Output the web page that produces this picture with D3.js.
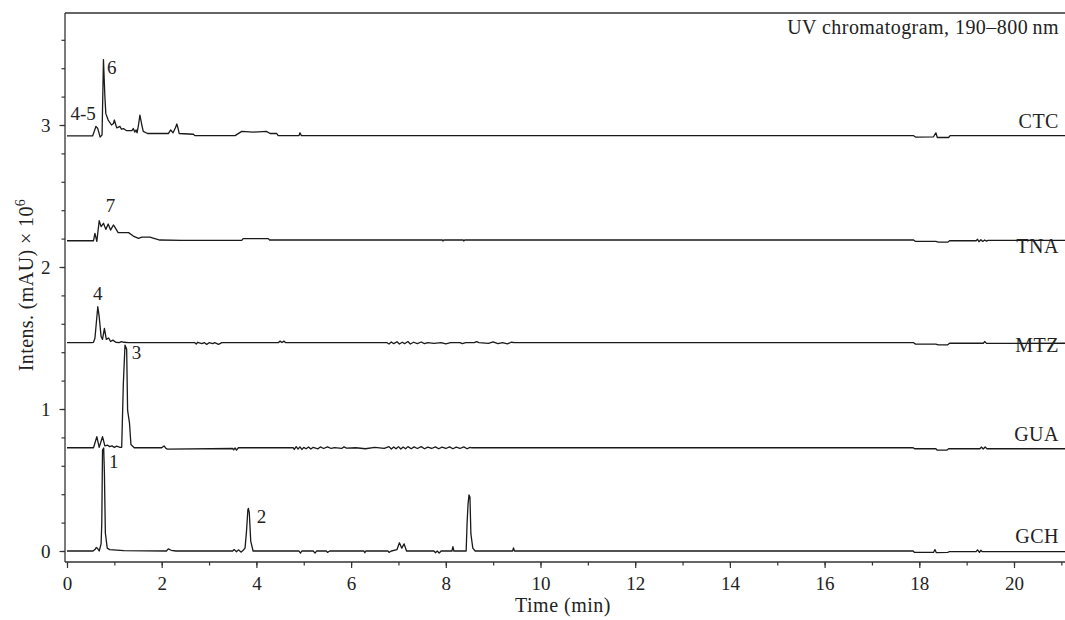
<!DOCTYPE html>
<html>
<head>
<meta charset="utf-8">
<script src="https://cdn.jsdelivr.net/npm/d3@7"></script>
<style>
  html, body { margin: 0; padding: 0; background: #fff; }
  svg { display: block; }
  text { font-family: "Liberation Serif", "DejaVu Serif", serif; fill: #222; }
</style>
</head>
<body>
<svg id="chart" width="1065" height="620"></svg>
<script>
// ---- Data (time in min, intensity in mAU x 10^6) ----
const xTicksMajor = [0, 2, 4, 6, 8, 10, 12, 14, 16, 18, 20];
const yTicksMajor = [0, 1, 2, 3];

const CTC = [
  [0,2.923],[0.54,2.923],[0.58,2.96],[0.61,2.99],[0.65,2.975],[0.70,2.915],[0.74,2.93],[0.77,3.46],[0.80,3.20],
  [0.82,3.08],[0.87,3.035],[0.94,3.0],[0.98,3.01],[1.0,3.035],[1.05,2.98],[1.12,2.99],[1.15,2.97],[1.19,2.975],
  [1.26,2.96],[1.37,2.96],[1.40,2.975],[1.43,2.95],[1.46,2.965],[1.48,2.945],[1.51,3.0],[1.54,3.07],[1.58,3.0],
  [1.61,2.955],[1.70,2.94],[2.14,2.94],[2.19,2.965],[2.24,2.945],[2.29,2.98],[2.32,3.007],[2.35,2.97],[2.37,2.94],
  [2.67,2.935],[2.70,2.925],[3.55,2.925],[3.69,2.955],[3.93,2.95],[4.21,2.955],[4.29,2.94],[4.43,2.94],[4.46,2.925],
  [4.90,2.925],[4.92,2.945],[4.95,2.925],[17.88,2.925],[17.92,2.915],[18.3,2.917],[18.35,2.945],[18.38,2.912],
  [18.62,2.912],[18.65,2.925],[21.2,2.925]
];
const TNA = [
  [0,2.185],[0.56,2.185],[0.59,2.237],[0.63,2.18],[0.68,2.326],[0.72,2.284],[0.77,2.308],[0.82,2.265],[0.87,2.303],
  [0.92,2.26],[0.98,2.296],[1.03,2.27],[1.08,2.242],[1.30,2.242],[1.40,2.218],[1.51,2.202],[1.58,2.21],[1.75,2.21],
  [1.96,2.19],[2.42,2.187],[3.69,2.187],[3.72,2.2],[4.25,2.2],[4.28,2.19],[7.93,2.19],[7.94,2.183],[7.96,2.19],
  [8.37,2.19],[8.38,2.183],[8.40,2.19],[17.88,2.19],[17.92,2.18],[18.35,2.18],[18.4,2.175],[18.6,2.175],[18.64,2.185],
  [19.2,2.185],[19.23,2.195],[19.26,2.178],[19.3,2.192],[19.34,2.18],[19.38,2.19],[19.42,2.182],[19.45,2.187],[21.2,2.187]
];
const MTZ = [
  [0,1.467],[0.52,1.467],[0.56,1.47],[0.59,1.498],[0.65,1.72],[0.68,1.65],[0.72,1.51],[0.75,1.49],[0.79,1.568],
  [0.83,1.49],[0.88,1.50],[0.92,1.475],[0.97,1.485],[1.03,1.47],[1.1,1.468],[1.15,1.475],[1.2,1.47],[1.3,1.467],
  [2.70,1.467],[2.73,1.457],[2.76,1.47],[2.85,1.46],[2.9,1.468],[2.95,1.455],[3.0,1.467],[3.08,1.46],[3.12,1.467],
  [3.2,1.455],[3.27,1.467],[4.46,1.467],[4.5,1.478],[4.54,1.468],[4.58,1.478],[4.62,1.467],
  [6.76,1.467],[6.8,1.458],[6.85,1.472],[6.9,1.46],[6.97,1.474],[7.02,1.458],[7.08,1.47],[7.13,1.46],[7.2,1.475],
  [7.25,1.458],[7.32,1.47],[7.4,1.46],[7.48,1.472],[7.55,1.46],[7.62,1.468],[7.75,1.462],[7.9,1.468],[8.0,1.458],
  [8.1,1.467],[8.3,1.467],[8.35,1.46],[8.42,1.467],[8.6,1.467],[8.65,1.474],[8.7,1.467],[8.9,1.462],[9.0,1.472],
  [9.1,1.46],[9.2,1.467],[9.3,1.458],[9.38,1.47],[9.46,1.467],[17.88,1.467],[17.92,1.457],[18.35,1.457],[18.4,1.452],
  [18.6,1.452],[18.64,1.463],[19.35,1.463],[19.38,1.475],[19.42,1.462],[21.2,1.463]
];
const GUA = [
  [0,0.727],[0.56,0.727],[0.63,0.805],[0.68,0.73],[0.75,0.805],[0.80,0.74],[0.86,0.745],[0.9,0.735],[0.95,0.74],
  [1.0,0.73],[1.05,0.738],[1.12,0.73],[1.155,0.73],[1.19,1.18],[1.225,1.45],[1.26,1.42],[1.28,0.99],[1.32,0.9],
  [1.35,0.75],[1.42,0.727],[2.0,0.727],[2.05,0.74],[2.09,0.722],[2.12,0.718],[3.5,0.722],[3.52,0.712],[3.55,0.726],
  [3.58,0.71],[3.62,0.727],[4.78,0.727],[4.8,0.715],[4.84,0.735],[4.88,0.718],[4.92,0.733],[4.96,0.715],[5.0,0.73],
  [5.05,0.72],[5.1,0.733],[5.15,0.718],[5.2,0.73],[5.3,0.72],[5.35,0.733],[5.42,0.722],[5.5,0.733],[5.58,0.722],
  [5.65,0.728],[5.8,0.722],[5.85,0.733],[5.9,0.725],[6.1,0.727],[6.3,0.72],[6.5,0.73],[6.7,0.722],[6.8,0.735],
  [6.85,0.718],[6.9,0.733],[6.95,0.72],[7.0,0.735],[7.05,0.718],[7.1,0.732],[7.15,0.72],[7.2,0.735],[7.27,0.72],
  [7.33,0.733],[7.4,0.722],[7.48,0.735],[7.55,0.72],[7.62,0.732],[7.7,0.722],[7.78,0.733],[7.85,0.72],[7.92,0.732],
  [8.0,0.722],[8.08,0.733],[8.15,0.72],[8.22,0.732],[8.3,0.722],[8.38,0.733],[8.45,0.72],[8.51,0.73],[8.55,0.727],
  [17.87,0.727],[17.9,0.72],[18.35,0.72],[18.38,0.71],[18.58,0.71],[18.62,0.72],[19.28,0.72],[19.31,0.732],
  [19.35,0.718],[19.39,0.732],[19.43,0.72],[21.2,0.72]
];
const GCH = [
  [0,0],[0.55,0],[0.59,0.01],[0.62,0.025],[0.64,0.02],[0.68,0.0],[0.72,0.05],[0.735,0.2],[0.75,0.71],[0.775,0.725],
  [0.79,0.55],[0.81,0.127],[0.85,0.02],[0.9,0.01],[1.2,0.003],[2.1,0.0],[2.14,0.015],[2.2,0.005],[2.3,0.0],[3.5,0.0],
  [3.53,0.01],[3.58,-0.005],[3.62,0.008],[3.68,-0.008],[3.72,0.005],[3.76,0.02],[3.79,0.135],[3.82,0.29],[3.83,0.30],
  [3.85,0.27],[3.88,0.07],[3.93,0.0],[4.9,0.0],[4.93,-0.015],[4.96,0.0],[5.2,0.0],[5.24,-0.015],[5.27,0.0],[5.48,0.0],
  [5.5,-0.01],[5.55,0.0],[6.27,0.0],[6.29,-0.012],[6.31,0.0],[6.78,0.0],[6.8,-0.01],[6.85,0.0],[6.97,0.01],[7.02,0.058],
  [7.07,0.02],[7.12,0.05],[7.17,0.0],[7.75,0.0],[7.78,-0.012],[7.82,0.0],[7.86,-0.015],[7.9,0.0],[8.13,0.0],[8.15,0.03],
  [8.17,0.0],[8.43,0.0],[8.45,0.2],[8.47,0.33],[8.49,0.395],[8.51,0.38],[8.53,0.12],[8.57,0.02],[8.62,0.0],[9.41,0.0],
  [9.43,0.022],[9.45,0.0],[17.87,0.0],[17.9,-0.01],[18.3,-0.01],[18.33,0.01],[18.36,-0.012],[18.6,-0.01],[18.63,-0.005],
  [19.2,-0.005],[19.23,0.008],[19.27,-0.01],[19.3,0.005],[19.33,-0.005],[21.2,-0.005]
];

const seriesNames = ["CTC", "TNA", "MTZ", "GUA", "GCH"];
const seriesData = [CTC, TNA, MTZ, GUA, GCH];
const seriesLabelY = [2.979, 2.101, 1.398, 0.775, 0.056];

const peakLabels = ["4-5", "6", "7", "4", "3", "1", "2"];
const peakLabelT = [0.075, 0.845, 0.82, 0.55, 1.37, 0.887, 4.01];
const peakLabelV = [3.035, 3.36, 2.387, 1.768, 1.352, 0.585, 0.197];

// ---- Layout ----
const svg = d3.select("#chart");
const x = d3.scaleLinear().domain([0, 20]).range([67, 1014]);
const y = d3.scaleLinear().domain([0, 3]).range([551, 125]);
const xMax = x.invert(1065);
const yMax = y.invert(13);
const axisColor = "#333";
const FONT = "Liberation Serif";

// traces
const line = d3.line().x(d => x(d[0])).y(d => y(d[1]));
svg.append("defs").append("clipPath").attr("id", "clip")
  .append("rect").attr("x", 65).attr("y", 13).attr("width", 1000).attr("height", 549);
svg.append("g").attr("clip-path", "url(#clip)")
  .selectAll("path").data(seriesData).join("path")
  .attr("d", line)
  .attr("fill", "none")
  .attr("stroke", "#1a1a1a")
  .attr("stroke-width", 1.3)
  .attr("stroke-linejoin", "round");

// top border
svg.append("line").attr("x1", 65).attr("x2", 1065).attr("y1", 13).attr("y2", 13)
  .attr("stroke", axisColor).attr("stroke-width", 1.3);

// y axis
const yMinor = d3.range(0, 19).map(i => +(i * 0.2).toFixed(1)).filter(v => v <= yMax);
const gy = svg.append("g").attr("transform", "translate(65,0)")
  .call(d3.axisLeft(y).tickValues(yMinor).tickSize(3.5).tickFormat(""));
gy.select(".domain").remove();
gy.selectAll("line").attr("stroke", axisColor).attr("stroke-width", 1.2);
const gy2 = svg.append("g").attr("transform", "translate(65,0)")
  .call(d3.axisLeft(y).tickValues(yTicksMajor).tickSize(5.5).tickPadding(9).tickFormat(d3.format("d")));
gy2.select(".domain").remove();
gy2.selectAll("line").attr("stroke", axisColor).attr("stroke-width", 1.2);
gy2.selectAll("text").attr("font-size", 19).attr("font-family", FONT).attr("fill", "#222");
svg.append("line").attr("x1", 65).attr("x2", 65).attr("y1", 13).attr("y2", 562)
  .attr("stroke", axisColor).attr("stroke-width", 1.3);

// x axis
const xMinorVals = d3.range(0, 22).filter(v => v <= xMax);
const gx = svg.append("g").attr("transform", "translate(0,562)")
  .call(d3.axisBottom(x).tickValues(xMinorVals).tickSize(3.5).tickFormat(""));
gx.select(".domain").remove();
gx.selectAll("line").attr("stroke", axisColor).attr("stroke-width", 1.2);
const gx2 = svg.append("g").attr("transform", "translate(0,562)")
  .call(d3.axisBottom(x).tickValues(xTicksMajor).tickSize(6).tickPadding(9).tickFormat(d3.format("d")));
gx2.select(".domain").remove();
gx2.selectAll("line").attr("stroke", axisColor).attr("stroke-width", 1.2);
gx2.selectAll("text").attr("font-size", 19).attr("font-family", FONT).attr("fill", "#222");
svg.append("line").attr("x1", 65).attr("x2", 1065).attr("y1", 562).attr("y2", 562)
  .attr("stroke", axisColor).attr("stroke-width", 1.3);

// axis titles
svg.append("text").attr("x", 563).attr("y", 612).attr("text-anchor", "middle")
  .attr("font-size", 20).attr("letter-spacing", 0.5).text("Time (min)");
const yt = svg.append("text").attr("transform", "translate(33,285) rotate(-90)")
  .attr("text-anchor", "middle").attr("font-size", 20).attr("letter-spacing", 0.4);
yt.append("tspan").text("Intens. (mAU) × 10");
yt.append("tspan").attr("dy", -8).attr("font-size", 14).text("6");

// top-right caption
svg.append("text").attr("x", 1059).attr("y", 34).attr("text-anchor", "end")
  .attr("font-size", 20).attr("letter-spacing", 0.45).text("UV chromatogram, 190–800\u2009nm");

// series labels
svg.selectAll("text.series").data(seriesNames).join("text")
  .attr("class", "series")
  .attr("x", x(20.95))
  .attr("y", (d, i) => y(seriesLabelY[i]))
  .attr("text-anchor", "end")
  .attr("font-size", 20)
  .attr("letter-spacing", 0.5)
  .text(d => d);

// peak labels
svg.selectAll("text.peak").data(peakLabels).join("text")
  .attr("class", "peak")
  .attr("x", (d, i) => x(peakLabelT[i]))
  .attr("y", (d, i) => y(peakLabelV[i]))
  .attr("font-size", 19)
  .text(d => d);
</script>
</body>
</html>
